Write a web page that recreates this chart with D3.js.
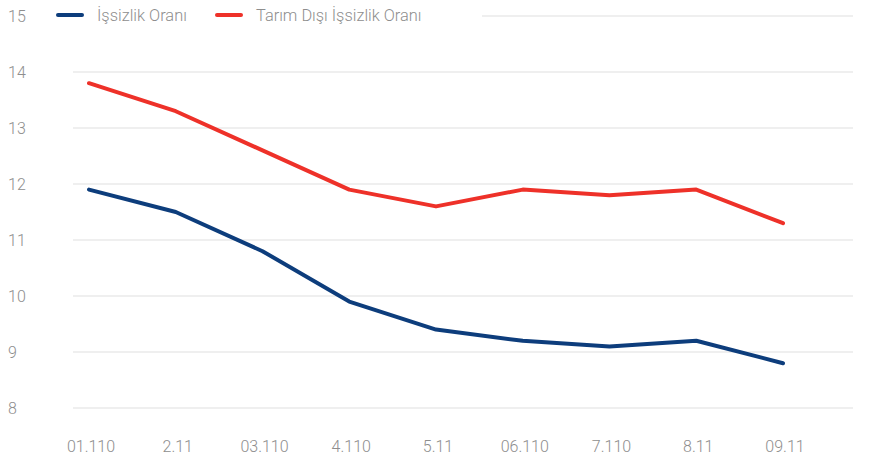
<!DOCTYPE html>
<html>
<head>
<meta charset="utf-8">
<script src="https://cdn.jsdelivr.net/npm/d3@7"></script>
<style>
  body { margin: 0; background: #fff; }
  text { font-family: Roboto, "Liberation Sans", sans-serif; font-weight: 300; fill: #8e8e8e; }
</style>
</head>
<body>
<svg width="875" height="461"></svg>
<script>
// data
const months = ['01.110', '2.11', '03.110', '4.110', '5.11', '06.110', '7.110', '8.11', '09.11'];
const unemployment = [11.9, 11.5, 10.8, 9.9, 9.4, 9.2, 9.1, 9.2, 8.8];
const nonFarm = [13.8, 13.3, 12.6, 11.9, 11.6, 11.9, 11.8, 11.9, 11.3];
const yTicks = [8, 9, 10, 11, 12, 13, 14, 15];
const seriesNames = ['İşsizlik Oranı', 'Tarım Dışı İşsizlik Oranı'];
const colors = ['#0d3d7c', '#ee3129'];

const svg = d3.select('svg');

const xScale = d3.scalePoint()
    .domain(months)
    .range([89, 783]);

const yScale = d3.scaleLinear()
    .domain([8, 15])
    .range([408, 16]);

// gridlines
svg.append('g').selectAll('line').data(yTicks)
  .enter().append('line')
    .attr('x1', d => d === 15 ? 482 : 73)
    .attr('x2', 853)
    .attr('y1', d => yScale(d))
    .attr('y2', d => yScale(d))
    .attr('stroke', '#e0e0e0')
    .attr('stroke-width', 1.2);

// y labels
svg.append('g').selectAll('text').data(yTicks)
  .enter().append('text')
    .attr('x', 8)
    .attr('y', d => yScale(d))
    .attr('dy', '0.36em')
    .style('font-size', '16px')
    .text(d => d);

// x labels
svg.append('g').selectAll('text').data(months)
  .enter().append('text')
    .attr('x', d => xScale(d) + 2)
    .attr('y', 452)
    .attr('text-anchor', 'middle')
    .style('font-size', '16px')
    .text(d => d);

const line = d3.line()
    .x((d, i) => xScale(months[i]))
    .y(d => yScale(d));

[unemployment, nonFarm].forEach((s, i) => {
  svg.append('path')
    .datum(s)
    .attr('fill', 'none')
    .attr('stroke', colors[i])
    .attr('stroke-width', 4)
    .attr('stroke-linecap', 'round')
    .attr('stroke-linejoin', 'round')
    .attr('d', line);
});

// legend
const legendX = [58, 217];
seriesNames.forEach((name, i) => {
  svg.append('line')
    .attr('x1', legendX[i]).attr('x2', legendX[i] + 24)
    .attr('y1', 15).attr('y2', 15)
    .attr('stroke', colors[i])
    .attr('stroke-width', 4)
    .attr('stroke-linecap', 'round');
  svg.append('text')
    .attr('x', legendX[i] + 39)
    .attr('y', 15)
    .attr('dy', '0.36em')
    .style('font-size', '16.4px')
    .text(name);
});
</script>
</body>
</html>
